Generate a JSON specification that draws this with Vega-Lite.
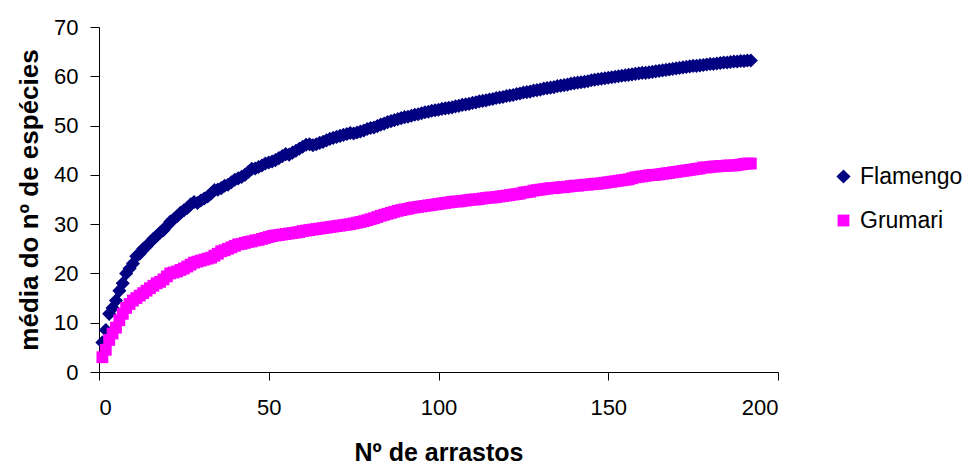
{
"$schema": "https://vega.github.io/schema/vega-lite/v6.json",
"width": 679, "height": 345,
"autosize": "none",
"padding": {"left": 99, "top": 27, "right": 195, "bottom": 93},
"background": "white",
"config": {"view": {"stroke": null}, "font": "Liberation Sans"},
"data": {"values": [
{"n":1,"s":"Flamengo","v":6},{"n":2,"s":"Flamengo","v":8.5},{"n":3,"s":"Flamengo","v":11.8},{"n":4,"s":"Flamengo","v":13},{"n":5,"s":"Flamengo","v":14.5},{"n":6,"s":"Flamengo","v":16.5},{"n":7,"s":"Flamengo","v":18},{"n":8,"s":"Flamengo","v":20},{"n":9,"s":"Flamengo","v":21},{"n":10,"s":"Flamengo","v":22},
{"n":11,"s":"Flamengo","v":23.5},{"n":12,"s":"Flamengo","v":24},{"n":13,"s":"Flamengo","v":25},{"n":14,"s":"Flamengo","v":25.5},{"n":15,"s":"Flamengo","v":26.3},{"n":16,"s":"Flamengo","v":27},{"n":17,"s":"Flamengo","v":27.6},{"n":18,"s":"Flamengo","v":28.3},{"n":19,"s":"Flamengo","v":28.8},{"n":20,"s":"Flamengo","v":29.6},
{"n":21,"s":"Flamengo","v":30.5},{"n":22,"s":"Flamengo","v":31},{"n":23,"s":"Flamengo","v":31.6},{"n":24,"s":"Flamengo","v":32.3},{"n":25,"s":"Flamengo","v":32.8},{"n":26,"s":"Flamengo","v":33.3},{"n":27,"s":"Flamengo","v":34},{"n":28,"s":"Flamengo","v":34.5},{"n":29,"s":"Flamengo","v":34.3},{"n":30,"s":"Flamengo","v":34.8},
{"n":31,"s":"Flamengo","v":35.2},{"n":32,"s":"Flamengo","v":35.6},{"n":33,"s":"Flamengo","v":36.2},{"n":34,"s":"Flamengo","v":36.9},{"n":35,"s":"Flamengo","v":37},{"n":36,"s":"Flamengo","v":37.3},{"n":37,"s":"Flamengo","v":37.8},{"n":38,"s":"Flamengo","v":38},{"n":39,"s":"Flamengo","v":38.5},{"n":40,"s":"Flamengo","v":39},
{"n":41,"s":"Flamengo","v":39.3},{"n":42,"s":"Flamengo","v":39.6},{"n":43,"s":"Flamengo","v":40},{"n":44,"s":"Flamengo","v":40.6},{"n":45,"s":"Flamengo","v":41.2},{"n":46,"s":"Flamengo","v":41.3},{"n":47,"s":"Flamengo","v":41.6},{"n":48,"s":"Flamengo","v":41.9},{"n":49,"s":"Flamengo","v":42.3},{"n":50,"s":"Flamengo","v":42.5},
{"n":51,"s":"Flamengo","v":42.7},{"n":52,"s":"Flamengo","v":43},{"n":53,"s":"Flamengo","v":43.4},{"n":54,"s":"Flamengo","v":43.8},{"n":55,"s":"Flamengo","v":44.2},{"n":56,"s":"Flamengo","v":44.1},{"n":57,"s":"Flamengo","v":44.5},{"n":58,"s":"Flamengo","v":44.9},{"n":59,"s":"Flamengo","v":45.3},{"n":60,"s":"Flamengo","v":45.7},
{"n":61,"s":"Flamengo","v":46.1},{"n":62,"s":"Flamengo","v":46.2},{"n":63,"s":"Flamengo","v":46},{"n":64,"s":"Flamengo","v":46.2},{"n":65,"s":"Flamengo","v":46.5},{"n":66,"s":"Flamengo","v":46.7},{"n":67,"s":"Flamengo","v":47},{"n":68,"s":"Flamengo","v":47.3},{"n":69,"s":"Flamengo","v":47.5},{"n":70,"s":"Flamengo","v":47.7},
{"n":71,"s":"Flamengo","v":47.9},{"n":72,"s":"Flamengo","v":48.1},{"n":73,"s":"Flamengo","v":48.3},{"n":74,"s":"Flamengo","v":48.5},{"n":75,"s":"Flamengo","v":48.4},{"n":76,"s":"Flamengo","v":48.6},{"n":77,"s":"Flamengo","v":48.8},{"n":78,"s":"Flamengo","v":49},{"n":79,"s":"Flamengo","v":49.3},{"n":80,"s":"Flamengo","v":49.5},
{"n":81,"s":"Flamengo","v":49.6},{"n":82,"s":"Flamengo","v":49.9},{"n":83,"s":"Flamengo","v":50.2},{"n":84,"s":"Flamengo","v":50.4},{"n":85,"s":"Flamengo","v":50.7},{"n":86,"s":"Flamengo","v":50.9},{"n":87,"s":"Flamengo","v":51.1},{"n":88,"s":"Flamengo","v":51.3},{"n":89,"s":"Flamengo","v":51.5},{"n":90,"s":"Flamengo","v":51.7},
{"n":91,"s":"Flamengo","v":51.8},{"n":92,"s":"Flamengo","v":52},{"n":93,"s":"Flamengo","v":52.2},{"n":94,"s":"Flamengo","v":52.3},{"n":95,"s":"Flamengo","v":52.5},{"n":96,"s":"Flamengo","v":52.7},{"n":97,"s":"Flamengo","v":52.8},{"n":98,"s":"Flamengo","v":53},{"n":99,"s":"Flamengo","v":53.1},{"n":100,"s":"Flamengo","v":53.2},
{"n":101,"s":"Flamengo","v":53.4},{"n":102,"s":"Flamengo","v":53.5},{"n":103,"s":"Flamengo","v":53.6},{"n":104,"s":"Flamengo","v":53.7},{"n":105,"s":"Flamengo","v":53.9},{"n":106,"s":"Flamengo","v":54},{"n":107,"s":"Flamengo","v":54.2},{"n":108,"s":"Flamengo","v":54.3},{"n":109,"s":"Flamengo","v":54.4},{"n":110,"s":"Flamengo","v":54.6},
{"n":111,"s":"Flamengo","v":54.7},{"n":112,"s":"Flamengo","v":54.9},{"n":113,"s":"Flamengo","v":55},{"n":114,"s":"Flamengo","v":55.1},{"n":115,"s":"Flamengo","v":55.3},{"n":116,"s":"Flamengo","v":55.4},{"n":117,"s":"Flamengo","v":55.6},{"n":118,"s":"Flamengo","v":55.7},{"n":119,"s":"Flamengo","v":55.8},{"n":120,"s":"Flamengo","v":56},
{"n":121,"s":"Flamengo","v":56.1},{"n":122,"s":"Flamengo","v":56.2},{"n":123,"s":"Flamengo","v":56.4},{"n":124,"s":"Flamengo","v":56.5},{"n":125,"s":"Flamengo","v":56.7},{"n":126,"s":"Flamengo","v":56.8},{"n":127,"s":"Flamengo","v":56.9},{"n":128,"s":"Flamengo","v":57.1},{"n":129,"s":"Flamengo","v":57.2},{"n":130,"s":"Flamengo","v":57.3},
{"n":131,"s":"Flamengo","v":57.5},{"n":132,"s":"Flamengo","v":57.6},{"n":133,"s":"Flamengo","v":57.7},{"n":134,"s":"Flamengo","v":57.8},{"n":135,"s":"Flamengo","v":58},{"n":136,"s":"Flamengo","v":58.1},{"n":137,"s":"Flamengo","v":58.2},{"n":138,"s":"Flamengo","v":58.3},{"n":139,"s":"Flamengo","v":58.5},{"n":140,"s":"Flamengo","v":58.6},
{"n":141,"s":"Flamengo","v":58.7},{"n":142,"s":"Flamengo","v":58.8},{"n":143,"s":"Flamengo","v":58.9},{"n":144,"s":"Flamengo","v":59},{"n":145,"s":"Flamengo","v":59.2},{"n":146,"s":"Flamengo","v":59.3},{"n":147,"s":"Flamengo","v":59.4},{"n":148,"s":"Flamengo","v":59.5},{"n":149,"s":"Flamengo","v":59.6},{"n":150,"s":"Flamengo","v":59.7},
{"n":151,"s":"Flamengo","v":59.8},{"n":152,"s":"Flamengo","v":59.9},{"n":153,"s":"Flamengo","v":60},{"n":154,"s":"Flamengo","v":60.1},{"n":155,"s":"Flamengo","v":60.2},{"n":156,"s":"Flamengo","v":60.3},{"n":157,"s":"Flamengo","v":60.4},{"n":158,"s":"Flamengo","v":60.5},{"n":159,"s":"Flamengo","v":60.6},{"n":160,"s":"Flamengo","v":60.7},
{"n":161,"s":"Flamengo","v":60.7},{"n":162,"s":"Flamengo","v":60.8},{"n":163,"s":"Flamengo","v":60.9},{"n":164,"s":"Flamengo","v":61},{"n":165,"s":"Flamengo","v":61.1},{"n":166,"s":"Flamengo","v":61.2},{"n":167,"s":"Flamengo","v":61.3},{"n":168,"s":"Flamengo","v":61.4},{"n":169,"s":"Flamengo","v":61.5},{"n":170,"s":"Flamengo","v":61.6},
{"n":171,"s":"Flamengo","v":61.7},{"n":172,"s":"Flamengo","v":61.8},{"n":173,"s":"Flamengo","v":61.9},{"n":174,"s":"Flamengo","v":62},{"n":175,"s":"Flamengo","v":62.1},{"n":176,"s":"Flamengo","v":62.1},{"n":177,"s":"Flamengo","v":62.2},{"n":178,"s":"Flamengo","v":62.3},{"n":179,"s":"Flamengo","v":62.4},{"n":180,"s":"Flamengo","v":62.5},
{"n":181,"s":"Flamengo","v":62.5},{"n":182,"s":"Flamengo","v":62.6},{"n":183,"s":"Flamengo","v":62.7},{"n":184,"s":"Flamengo","v":62.8},{"n":185,"s":"Flamengo","v":62.8},{"n":186,"s":"Flamengo","v":62.9},{"n":187,"s":"Flamengo","v":63},{"n":188,"s":"Flamengo","v":63},{"n":189,"s":"Flamengo","v":63.1},{"n":190,"s":"Flamengo","v":63.1},
{"n":191,"s":"Flamengo","v":63.2},{"n":192,"s":"Flamengo","v":63.2},
{"n":1,"s":"Grumari","v":3},{"n":2,"s":"Grumari","v":4.5},{"n":3,"s":"Grumari","v":6.5},{"n":4,"s":"Grumari","v":7.8},{"n":5,"s":"Grumari","v":9},{"n":6,"s":"Grumari","v":10.5},{"n":7,"s":"Grumari","v":11.8},{"n":8,"s":"Grumari","v":13},{"n":9,"s":"Grumari","v":13.8},{"n":10,"s":"Grumari","v":14.5},
{"n":11,"s":"Grumari","v":15},{"n":12,"s":"Grumari","v":15.5},{"n":13,"s":"Grumari","v":16},{"n":14,"s":"Grumari","v":16.5},{"n":15,"s":"Grumari","v":17},{"n":16,"s":"Grumari","v":17.5},{"n":17,"s":"Grumari","v":18},{"n":18,"s":"Grumari","v":18.3},{"n":19,"s":"Grumari","v":18.8},{"n":20,"s":"Grumari","v":19.4},
{"n":21,"s":"Grumari","v":20},{"n":22,"s":"Grumari","v":20.2},{"n":23,"s":"Grumari","v":20.4},{"n":24,"s":"Grumari","v":20.7},{"n":25,"s":"Grumari","v":21},{"n":26,"s":"Grumari","v":21.4},{"n":27,"s":"Grumari","v":21.8},{"n":28,"s":"Grumari","v":22.2},{"n":29,"s":"Grumari","v":22.4},{"n":30,"s":"Grumari","v":22.6},
{"n":31,"s":"Grumari","v":22.8},{"n":32,"s":"Grumari","v":23},{"n":33,"s":"Grumari","v":23.2},{"n":34,"s":"Grumari","v":23.6},{"n":35,"s":"Grumari","v":24},{"n":36,"s":"Grumari","v":24.5},{"n":37,"s":"Grumari","v":24.7},{"n":38,"s":"Grumari","v":25},{"n":39,"s":"Grumari","v":25.3},{"n":40,"s":"Grumari","v":25.6},
{"n":41,"s":"Grumari","v":25.9},{"n":42,"s":"Grumari","v":26},{"n":43,"s":"Grumari","v":26.2},{"n":44,"s":"Grumari","v":26.4},{"n":45,"s":"Grumari","v":26.5},{"n":46,"s":"Grumari","v":26.7},{"n":47,"s":"Grumari","v":26.8},{"n":48,"s":"Grumari","v":27},{"n":49,"s":"Grumari","v":27.2},{"n":50,"s":"Grumari","v":27.4},
{"n":51,"s":"Grumari","v":27.6},{"n":52,"s":"Grumari","v":27.7},{"n":53,"s":"Grumari","v":27.8},{"n":54,"s":"Grumari","v":27.9},{"n":55,"s":"Grumari","v":28},{"n":56,"s":"Grumari","v":28.1},{"n":57,"s":"Grumari","v":28.2},{"n":58,"s":"Grumari","v":28.3},{"n":59,"s":"Grumari","v":28.4},{"n":60,"s":"Grumari","v":28.6},
{"n":61,"s":"Grumari","v":28.7},{"n":62,"s":"Grumari","v":28.8},{"n":63,"s":"Grumari","v":28.9},{"n":64,"s":"Grumari","v":29},{"n":65,"s":"Grumari","v":29.1},{"n":66,"s":"Grumari","v":29.2},{"n":67,"s":"Grumari","v":29.3},{"n":68,"s":"Grumari","v":29.4},{"n":69,"s":"Grumari","v":29.5},{"n":70,"s":"Grumari","v":29.6},
{"n":71,"s":"Grumari","v":29.7},{"n":72,"s":"Grumari","v":29.8},{"n":73,"s":"Grumari","v":29.9},{"n":74,"s":"Grumari","v":30},{"n":75,"s":"Grumari","v":30.15},{"n":76,"s":"Grumari","v":30.3},{"n":77,"s":"Grumari","v":30.45},{"n":78,"s":"Grumari","v":30.6},{"n":79,"s":"Grumari","v":30.8},{"n":80,"s":"Grumari","v":31},
{"n":81,"s":"Grumari","v":31.2},{"n":82,"s":"Grumari","v":31.45},{"n":83,"s":"Grumari","v":31.7},{"n":84,"s":"Grumari","v":31.9},{"n":85,"s":"Grumari","v":32.1},{"n":86,"s":"Grumari","v":32.3},{"n":87,"s":"Grumari","v":32.5},{"n":88,"s":"Grumari","v":32.7},{"n":89,"s":"Grumari","v":32.85},{"n":90,"s":"Grumari","v":33},
{"n":91,"s":"Grumari","v":33.1},{"n":92,"s":"Grumari","v":33.3},{"n":93,"s":"Grumari","v":33.4},{"n":94,"s":"Grumari","v":33.5},{"n":95,"s":"Grumari","v":33.6},{"n":96,"s":"Grumari","v":33.7},{"n":97,"s":"Grumari","v":33.8},{"n":98,"s":"Grumari","v":33.9},{"n":99,"s":"Grumari","v":34},{"n":100,"s":"Grumari","v":34.1},
{"n":101,"s":"Grumari","v":34.2},{"n":102,"s":"Grumari","v":34.3},{"n":103,"s":"Grumari","v":34.4},{"n":104,"s":"Grumari","v":34.5},{"n":105,"s":"Grumari","v":34.6},{"n":106,"s":"Grumari","v":34.6},{"n":107,"s":"Grumari","v":34.7},{"n":108,"s":"Grumari","v":34.8},{"n":109,"s":"Grumari","v":34.9},{"n":110,"s":"Grumari","v":35},
{"n":111,"s":"Grumari","v":35},{"n":112,"s":"Grumari","v":35.1},{"n":113,"s":"Grumari","v":35.2},{"n":114,"s":"Grumari","v":35.3},{"n":115,"s":"Grumari","v":35.4},{"n":116,"s":"Grumari","v":35.4},{"n":117,"s":"Grumari","v":35.5},{"n":118,"s":"Grumari","v":35.6},{"n":119,"s":"Grumari","v":35.7},{"n":120,"s":"Grumari","v":35.8},
{"n":121,"s":"Grumari","v":35.9},{"n":122,"s":"Grumari","v":36},{"n":123,"s":"Grumari","v":36.1},{"n":124,"s":"Grumari","v":36.2},{"n":125,"s":"Grumari","v":36.4},{"n":126,"s":"Grumari","v":36.5},{"n":127,"s":"Grumari","v":36.6},{"n":128,"s":"Grumari","v":36.8},{"n":129,"s":"Grumari","v":36.9},{"n":130,"s":"Grumari","v":37},
{"n":131,"s":"Grumari","v":37.1},{"n":132,"s":"Grumari","v":37.2},{"n":133,"s":"Grumari","v":37.3},{"n":134,"s":"Grumari","v":37.3},{"n":135,"s":"Grumari","v":37.4},{"n":136,"s":"Grumari","v":37.5},{"n":137,"s":"Grumari","v":37.5},{"n":138,"s":"Grumari","v":37.6},{"n":139,"s":"Grumari","v":37.7},{"n":140,"s":"Grumari","v":37.8},
{"n":141,"s":"Grumari","v":37.8},{"n":142,"s":"Grumari","v":37.9},{"n":143,"s":"Grumari","v":38},{"n":144,"s":"Grumari","v":38},{"n":145,"s":"Grumari","v":38.1},{"n":146,"s":"Grumari","v":38.2},{"n":147,"s":"Grumari","v":38.2},{"n":148,"s":"Grumari","v":38.3},{"n":149,"s":"Grumari","v":38.4},{"n":150,"s":"Grumari","v":38.5},
{"n":151,"s":"Grumari","v":38.6},{"n":152,"s":"Grumari","v":38.7},{"n":153,"s":"Grumari","v":38.8},{"n":154,"s":"Grumari","v":38.9},{"n":155,"s":"Grumari","v":39},{"n":156,"s":"Grumari","v":39.1},{"n":157,"s":"Grumari","v":39.3},{"n":158,"s":"Grumari","v":39.5},{"n":159,"s":"Grumari","v":39.6},{"n":160,"s":"Grumari","v":39.7},
{"n":161,"s":"Grumari","v":39.8},{"n":162,"s":"Grumari","v":39.9},{"n":163,"s":"Grumari","v":40},{"n":164,"s":"Grumari","v":40},{"n":165,"s":"Grumari","v":40.1},{"n":166,"s":"Grumari","v":40.2},{"n":167,"s":"Grumari","v":40.3},{"n":168,"s":"Grumari","v":40.4},{"n":169,"s":"Grumari","v":40.5},{"n":170,"s":"Grumari","v":40.6},
{"n":171,"s":"Grumari","v":40.7},{"n":172,"s":"Grumari","v":40.8},{"n":173,"s":"Grumari","v":40.9},{"n":174,"s":"Grumari","v":41},{"n":175,"s":"Grumari","v":41.1},{"n":176,"s":"Grumari","v":41.2},{"n":177,"s":"Grumari","v":41.3},{"n":178,"s":"Grumari","v":41.5},{"n":179,"s":"Grumari","v":41.5},{"n":180,"s":"Grumari","v":41.6},
{"n":181,"s":"Grumari","v":41.7},{"n":182,"s":"Grumari","v":41.7},{"n":183,"s":"Grumari","v":41.8},{"n":184,"s":"Grumari","v":41.8},{"n":185,"s":"Grumari","v":41.9},{"n":186,"s":"Grumari","v":41.9},{"n":187,"s":"Grumari","v":41.9},{"n":188,"s":"Grumari","v":42},{"n":189,"s":"Grumari","v":42.1},{"n":190,"s":"Grumari","v":42.2},
{"n":191,"s":"Grumari","v":42.3},{"n":192,"s":"Grumari","v":42.3}
]},
"mark": {"type": "point", "filled": true, "opacity": 1, "strokeWidth": 0},
"encoding": {
"x": {"field": "n", "type": "quantitative", "title": "Nº de arrastos",
"scale": {"domain": [0, 200], "nice": false},
"axis": {"values": [0, 50, 100, 150, 200], "grid": false, "domainColor": "#000", "tickColor": "#000", "tickSize": 8, "labelColor": "#000", "labelFontSize": 22, "labelPadding": 17, "labelFont": "Liberation Sans", "titleFont": "Liberation Sans", "titleFontSize": 25, "titleFontWeight": "bold", "titleColor": "#000", "titlePadding": 22}},
"y": {"field": "v", "type": "quantitative", "title": "média do nº de espécies",
"scale": {"domain": [0, 70], "nice": false},
"axis": {"values": [0, 10, 20, 30, 40, 50, 60, 70], "grid": false, "domainColor": "#000", "tickColor": "#000", "tickSize": 9, "labelColor": "#000", "labelFontSize": 22, "labelPadding": 12, "labelFont": "Liberation Sans", "titleFont": "Liberation Sans", "titleFontSize": 26, "titleFontWeight": "bold", "titleColor": "#000", "titlePadding": 11}},
"color": {"field": "s", "type": "nominal", "title": null,
"scale": {"domain": ["Flamengo", "Grumari"], "range": ["#000080", "#FF00FF"]},
"legend": {"orient": "none", "legendX": 733, "legendY": 138, "labelFontSize": 23, "labelFont": "Liberation Sans", "labelColor": "#000", "rowPadding": 20, "labelOffset": 5, "symbolStrokeWidth": 0}},
"shape": {"field": "s", "type": "nominal", "title": null,
"scale": {"domain": ["Flamengo", "Grumari"], "range": ["diamond", "square"]}},
"size": {"field": "s", "type": "nominal", "legend": null,
"scale": {"domain": ["Flamengo", "Grumari"], "range": [200, 140]}},
"order": {"field": "s", "type": "nominal"}
}
}
